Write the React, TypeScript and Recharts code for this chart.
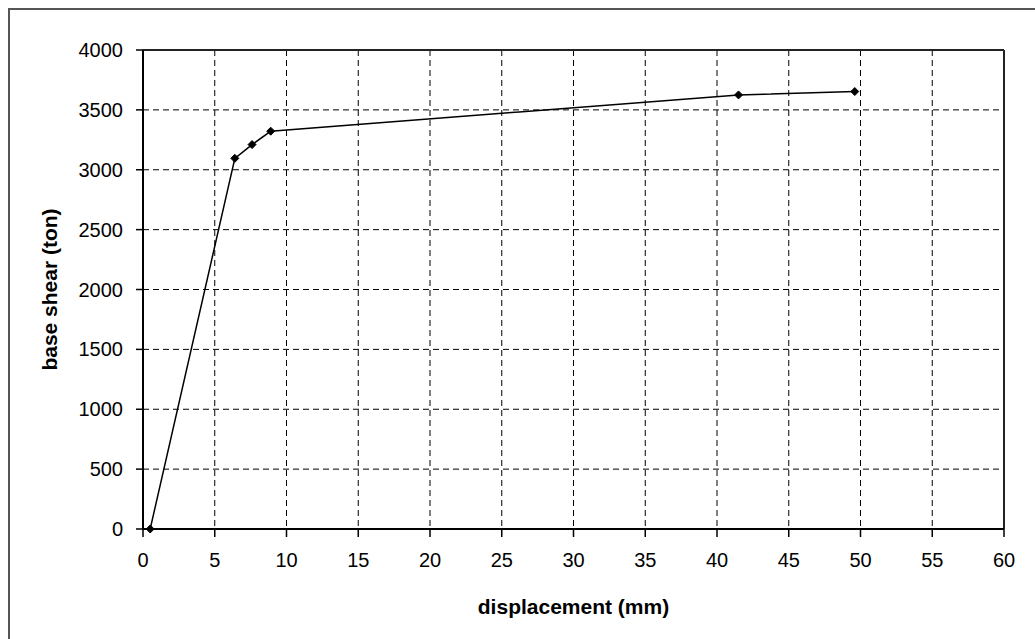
import React from "react";
import { CartesianGrid, Line, LineChart, ReferenceLine, XAxis, YAxis } from "recharts";

const displacement = [0.5, 6.4, 7.6, 8.9, 41.5, 49.6];
const baseShear = [0, 3095, 3210, 3322, 3625, 3653];
const xTicks = [0, 5, 10, 15, 20, 25, 30, 35, 40, 45, 50, 55, 60];
const yTicks = [0, 500, 1000, 1500, 2000, 2500, 3000, 3500, 4000];

const data = displacement.map((d, i) => ({ d, v: baseShear[i] }));

const font = "'Liberation Sans', Arial, sans-serif";
const tickStyle = { fill: "#000", fontSize: 20, fontFamily: font };

function Diamond(props: any) {
  const { cx, cy } = props;
  if (cx == null || cy == null) return null;
  const r = 4;
  return (
    <path
      d={`M${cx},${cy - r}L${cx + r},${cy}L${cx},${cy + r}L${cx - r},${cy}Z`}
      fill="#000"
      stroke="#000"
    />
  );
}

export default function App() {
  // fixed so the frame can run past the window edge without scrollbars
  return (
    <div
      style={{
        position: "fixed",
        left: 8,
        top: 8,
        width: 1040,
        height: 645,
        borderTop: "2px solid #555",
        borderLeft: "2px solid #555",
        boxSizing: "border-box",
        overflow: "hidden",
        background: "#fff",
      }}
    >
      <LineChart
        width={1020}
        height={619}
        data={data}
        margin={{ top: 40, right: 26, left: 13, bottom: 10 }}
      >
        <CartesianGrid stroke="#000" strokeDasharray="6 4" />
        <XAxis
          dataKey="d"
          type="number"
          domain={[0, 60]}
          ticks={xTicks}
          interval={0}
          height={90}
          tick={tickStyle}
          tickSize={8}
          tickMargin={16}
          axisLine={{ stroke: "#000", strokeWidth: 2 }}
          tickLine={{ stroke: "#000", strokeWidth: 1.5 }}
          label={{
            value: "displacement (mm)",
            position: "insideBottom",
            offset: 5,
            style: { fill: "#000", fontSize: 21, fontWeight: "bold", fontFamily: font },
          }}
        />
        <YAxis
          type="number"
          domain={[0, 4000]}
          ticks={yTicks}
          interval={0}
          width={120}
          tick={tickStyle}
          tickSize={7}
          tickMargin={13}
          axisLine={{ stroke: "#000", strokeWidth: 2 }}
          tickLine={{ stroke: "#000", strokeWidth: 1.5 }}
          label={{
            value: "base shear (ton)",
            angle: -90,
            position: "insideLeft",
            offset: 27,
            style: {
              textAnchor: "middle",
              fill: "#000",
              fontSize: 21,
              fontWeight: "bold",
              fontFamily: font,
            },
          }}
        />
        <ReferenceLine y={4000} stroke="#222" strokeWidth={2} />
        <ReferenceLine x={60} stroke="#222" strokeWidth={2} />
        <Line
          type="linear"
          dataKey="v"
          stroke="#000"
          strokeWidth={1.5}
          dot={<Diamond />}
          activeDot={false}
          isAnimationActive={false}
        />
      </LineChart>
    </div>
  );
}
